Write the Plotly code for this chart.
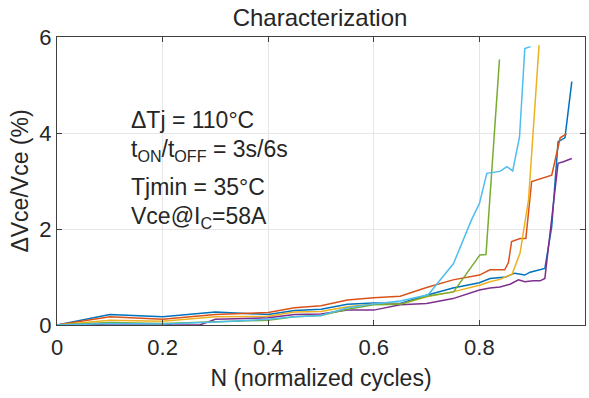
import plotly.graph_objects as go

# ---- data ----
blue_x = [0, 0.1, 0.2, 0.3, 0.4, 0.45, 0.5, 0.55, 0.6, 0.65, 0.7, 0.75, 0.8, 0.82, 0.85, 0.867, 0.886, 0.896, 0.924, 0.937, 0.949, 0.962, 0.975]
blue_y = [0, 0.22, 0.17, 0.27, 0.22, 0.3, 0.33, 0.43, 0.46, 0.45, 0.62, 0.77, 0.88, 0.97, 1.0, 1.08, 1.04, 1.1, 1.18, 2.05, 3.82, 3.9, 5.07]

orange_x = [0, 0.1, 0.2, 0.3, 0.4, 0.45, 0.5, 0.55, 0.6, 0.65, 0.7, 0.75, 0.8, 0.82, 0.848, 0.855, 0.861, 0.877, 0.888, 0.899, 0.937, 0.953, 0.965]
orange_y = [0, 0.17, 0.12, 0.22, 0.26, 0.36, 0.4, 0.52, 0.57, 0.6, 0.78, 0.94, 1.04, 1.15, 1.15, 1.3, 1.74, 1.8, 1.8, 2.99, 3.12, 3.9, 3.98]

yellow_x = [0, 0.1, 0.2, 0.3, 0.4, 0.45, 0.5, 0.55, 0.6, 0.65, 0.7, 0.75, 0.8, 0.82, 0.839, 0.862, 0.877, 0.893, 0.913]
yellow_y = [0, 0.1, 0.08, 0.17, 0.18, 0.27, 0.28, 0.38, 0.44, 0.43, 0.59, 0.69, 0.83, 0.9, 0.95, 1.06, 1.5, 2.6, 5.83]

purple_x = [0, 0.1, 0.2, 0.22, 0.27, 0.3, 0.4, 0.45, 0.5, 0.55, 0.6, 0.65, 0.7, 0.75, 0.8, 0.82, 0.839, 0.858, 0.874, 0.886, 0.902, 0.915, 0.924, 0.934, 0.94, 0.949, 0.959, 0.975]
purple_y = [0, 0.02, 0.02, 0.0, 0.0, 0.12, 0.15, 0.22, 0.23, 0.31, 0.31, 0.42, 0.45, 0.55, 0.73, 0.77, 0.79, 0.85, 0.94, 0.9, 0.92, 0.92, 0.97, 1.98, 2.54, 3.37, 3.4, 3.47]

green_x = [0, 0.1, 0.2, 0.3, 0.4, 0.45, 0.5, 0.55, 0.6, 0.65, 0.7, 0.751, 0.801, 0.8125, 0.838]
green_y = [0, 0.05, 0.03, 0.07, 0.1, 0.17, 0.2, 0.33, 0.42, 0.43, 0.6, 0.69, 1.46, 1.47, 5.53]

lightblue_x = [0, 0.1, 0.2, 0.3, 0.4, 0.45, 0.5, 0.55, 0.6, 0.65, 0.703, 0.751, 0.785, 0.80, 0.814, 0.839, 0.852, 0.863, 0.876, 0.886, 0.897]
lightblue_y = [0, 0.03, 0.02, 0.06, 0.12, 0.17, 0.2, 0.36, 0.44, 0.5, 0.63, 1.28, 2.19, 2.53, 3.16, 3.2, 3.3, 3.21, 3.92, 5.76, 5.8]

x_ticks = [0, 0.2, 0.4, 0.6, 0.8, 1]
x_tick_labels = ["0", "0.2", "0.4", "0.6", "0.8", "1"]
y_ticks = [0, 2, 4, 6]
y_tick_labels = ["0", "2", "4", "6"]

series = [
    (blue_x, blue_y, "#0072BD"),
    (orange_x, orange_y, "#D95319"),
    (yellow_x, yellow_y, "#EDB120"),
    (purple_x, purple_y, "#7E2F8E"),
    (green_x, green_y, "#77AC30"),
    (lightblue_x, lightblue_y, "#4DBEEE"),
]

FONT = "Liberation Sans, Arial, sans-serif"
TXT = "#262626"

fig = go.Figure()
for xs, ys, c in series:
    fig.add_trace(go.Scatter(x=xs, y=ys, mode="lines", line=dict(color=c, width=1.5), showlegend=False))

axis_common = dict(
    showgrid=True, gridcolor="#e6e6e6", gridwidth=1,
    showline=True, linecolor="#404040", linewidth=1, mirror="ticks",
    ticks="inside", ticklen=5, tickcolor="#404040",
    zeroline=False, tickfont=dict(family=FONT, size=22, color=TXT),
)

fig.update_xaxes(range=[0, 1], tickvals=x_ticks, ticktext=x_tick_labels, ticklabelstandoff=3,
                 title=dict(text="N (normalized cycles)", font=dict(family=FONT, size=23, color=TXT), standoff=10),
                 **axis_common)
fig.update_yaxes(range=[0, 6], tickvals=y_ticks, ticktext=y_tick_labels,
                 title=dict(text="ΔVce/Vce (%)", font=dict(family=FONT, size=23, color=TXT), standoff=4),
                 **axis_common)

W, H = 589 - 57 - 4, 398 - 37 - 73
lines = [
    ("ΔTj = 110°C", 120),
    ("t<sub>ON</sub>/t<sub>OFF</sub> = 3s/6s", 150),
    ("Tjmin = 35°C", 187),
    ("Vce@I<sub>C</sub>=58A", 217),
]
for txt, ypx in lines:
    fig.add_annotation(x=(129 - 57) / W, y=(325 - ypx) / H, xref="paper", yref="paper", text=txt,
                       showarrow=False, xanchor="left", yanchor="middle",
                       font=dict(family=FONT, size=23, color=TXT))

fig.update_layout(
    width=589, height=398,
    margin=dict(l=57, r=4, t=37, b=73),
    paper_bgcolor="white", plot_bgcolor="white",
    title=dict(text="Characterization", x=(320) / 589, xanchor="center", y=1 - 18 / 398, yanchor="middle",
               font=dict(family=FONT, size=24, color=TXT)),
)

fig.write_html("out.html")
